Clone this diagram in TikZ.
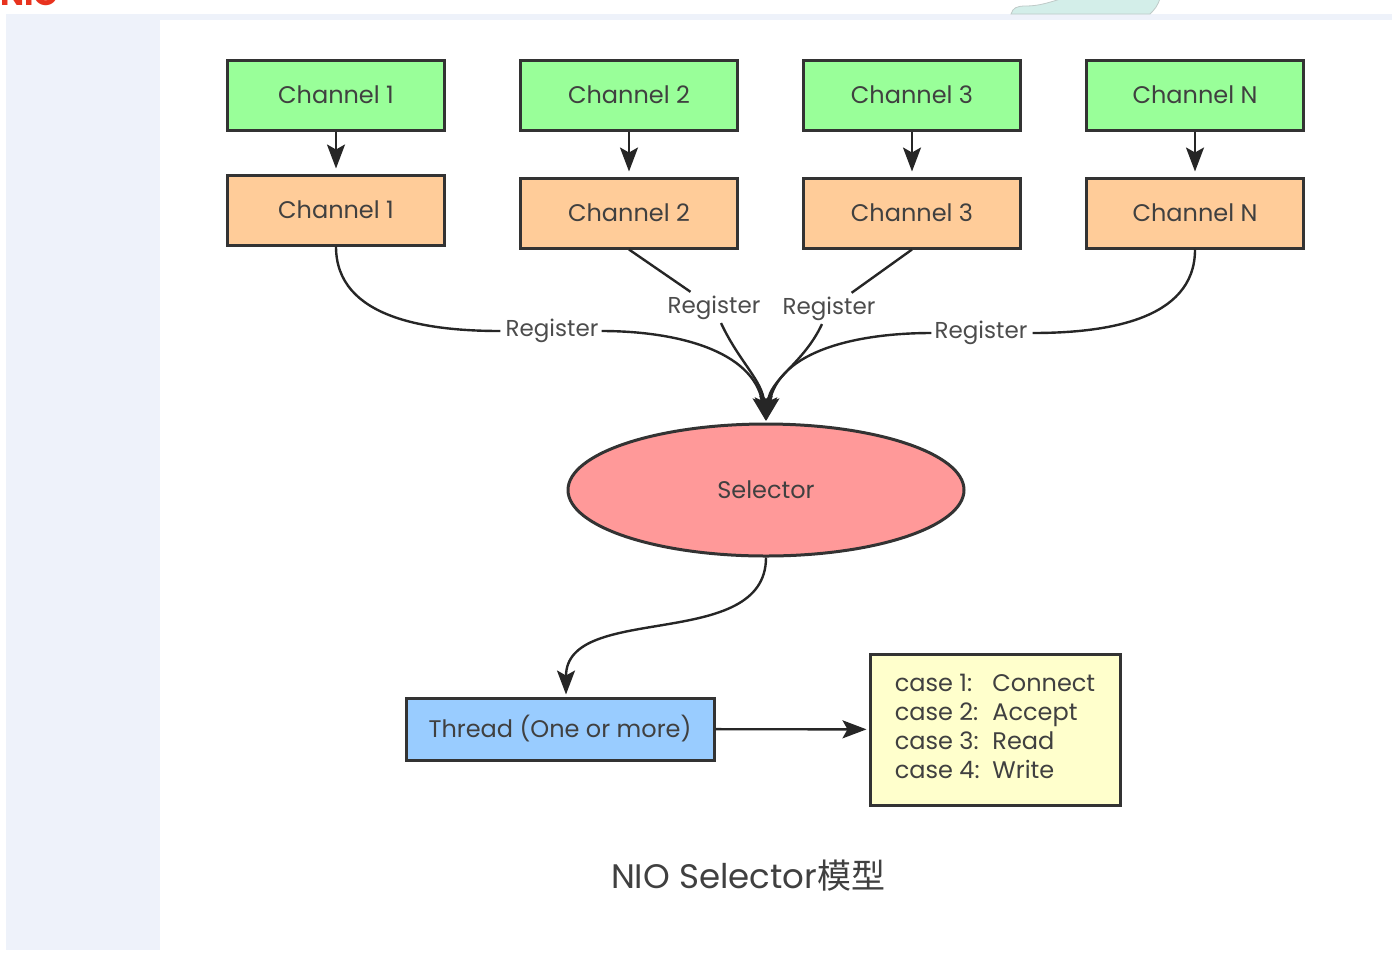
\documentclass[tikz,border=0pt]{standalone}
\usepackage{fontspec}
\setmainfont{Poppins}
\newfontfamily\cjk{Noto Sans CJK SC}
\usetikzlibrary{arrows.meta,shapes.geometric,positioning}

\definecolor{panel}{HTML}{EEF2FA}
\definecolor{chgreen}{HTML}{99FF99}
\definecolor{chorange}{HTML}{FFCC99}
\definecolor{thblue}{HTML}{99CCFF}
\definecolor{selred}{HTML}{FF9999}
\definecolor{caseyellow}{HTML}{FFFFCC}
\definecolor{blobteal}{HTML}{D3EEE9}
\definecolor{niored}{HTML}{E8321E}

\tikzset{
  chan/.style={draw=black!80, line width=1.5pt, minimum width=108.5pt,
    minimum height=35pt, text=black!75, font=\fontsize{12}{14}\selectfont},
  lbl/.style={inner sep=1pt, text=black!70, font=\fontsize{11.5}{13}\selectfont},
}

\begin{document}
\begin{tikzpicture}[x=0.5pt,y=-0.5pt,->,>={Stealth[length=12pt,width=9pt,inset=2.5pt]},
        shorten >=1pt,line width=1.2pt,draw=black!85,node distance=58pt]

  \useasboundingbox (0,0) rectangle (1392,960);
  \clip (0,0) rectangle (1392,960);

  % page around the figure
  \fill[panel] (6,14) rectangle (1392,20);
  \fill[panel] (6,14) rectangle (160,950);
  \filldraw[fill=blobteal, draw=blobteal!70!black!60, line width=0.4pt, -]
    (1011,14) .. controls (1013,8) and (1016,6) .. (1026,6)
    .. controls (1040,6) and (1050,2) .. (1064,-2) -- (1160,-2)
    .. controls (1158,6) and (1154,10) .. (1150,14) -- cycle;
  \node[text=niored, font=\bfseries\fontsize{16}{18}\selectfont, anchor=south west,
    inner sep=0pt] (nio) at (-1,7) {NIO};

  % channels
  \node[chan, fill=chgreen] (g1) at (336,95) {Channel 1};
  \node[chan, fill=chgreen] (g2) at (629,95) {Channel 2};
  \node[chan, fill=chgreen] (g3) at (912,95) {Channel 3};
  \node[chan, fill=chgreen] (gn) at (1195,95) {Channel N};

  \node[chan, fill=chorange] (o1) [below of=g1, node distance=57.5pt] {Channel 1};
  \node[chan, fill=chorange] (o2) [below of=g2, node distance=59pt] {Channel 2};
  \node[chan, fill=chorange] (o3) [below of=g3, node distance=59pt] {Channel 3};
  \node[chan, fill=chorange] (on) [below of=gn, node distance=59pt] {Channel N};

  \node[lbl] (r1) at (552,331) {Register};
  \node[lbl] (r2) at (714,308) {Register};
  \node[lbl] (r3) at (829,309) {Register};
  \node[lbl] (rn) at (981,333) {Register};

  \node[ellipse, draw=black!80, line width=1.5pt, fill=selred, minimum width=198pt,
    minimum height=66pt, inner sep=0pt, text=black!75,
    font=\fontsize{12}{14}\selectfont] (sel) at (766,490) {Selector};

  \node[chan, fill=thblue, minimum width=154pt, minimum height=31pt] (thr)
    at (560,729) {Thread (One or more)};

  \node[chan, fill=caseyellow, minimum width=125pt, minimum height=75.5pt,
    align=left, inner xsep=11pt] (cs) at (995,729.5)
    {\begin{tabular}{@{}l@{\ \ }l@{}}
      case 1: & Connect\\[0.6pt]
      case 2: & Accept\\[0.6pt]
      case 3: & Read\\[0.6pt]
      case 4: & Write
    \end{tabular}};

  \node[text=black!75, font=\fontsize{17}{20}\selectfont] (cap) at (748,876)
    {NIO Selector{\cjk 模型}};

  % connectors
  \path (g1) edge[shorten >=2.5pt] (o1)
        (g2) edge[shorten >=2.5pt] (o2)
        (g3) edge[shorten >=2.5pt] (o3)
        (gn) edge[shorten >=2.5pt] (on);

  \draw[-] (o1.south) to[out=-90,in=180] (r1.west);
  \draw (r1.east) to[out=0,in=100] (sel.north);
  \draw[-] (o2.south) -- (r2);
  \draw (r2) to[out=-65,in=95] (sel.north);
  \draw[-] (o3.south) -- (r3);
  \draw (r3) to[out=-115,in=85] (sel.north);
  \draw[-] (on.south) to[out=-90,in=0] (rn.east);
  \draw (rn.west) to[out=180,in=80] (sel.north);

  \draw (sel.south) to[out=-90,in=90] ([xshift=3pt]thr.north);
  \draw (thr) -- (cs);

\end{tikzpicture}
\end{document}
